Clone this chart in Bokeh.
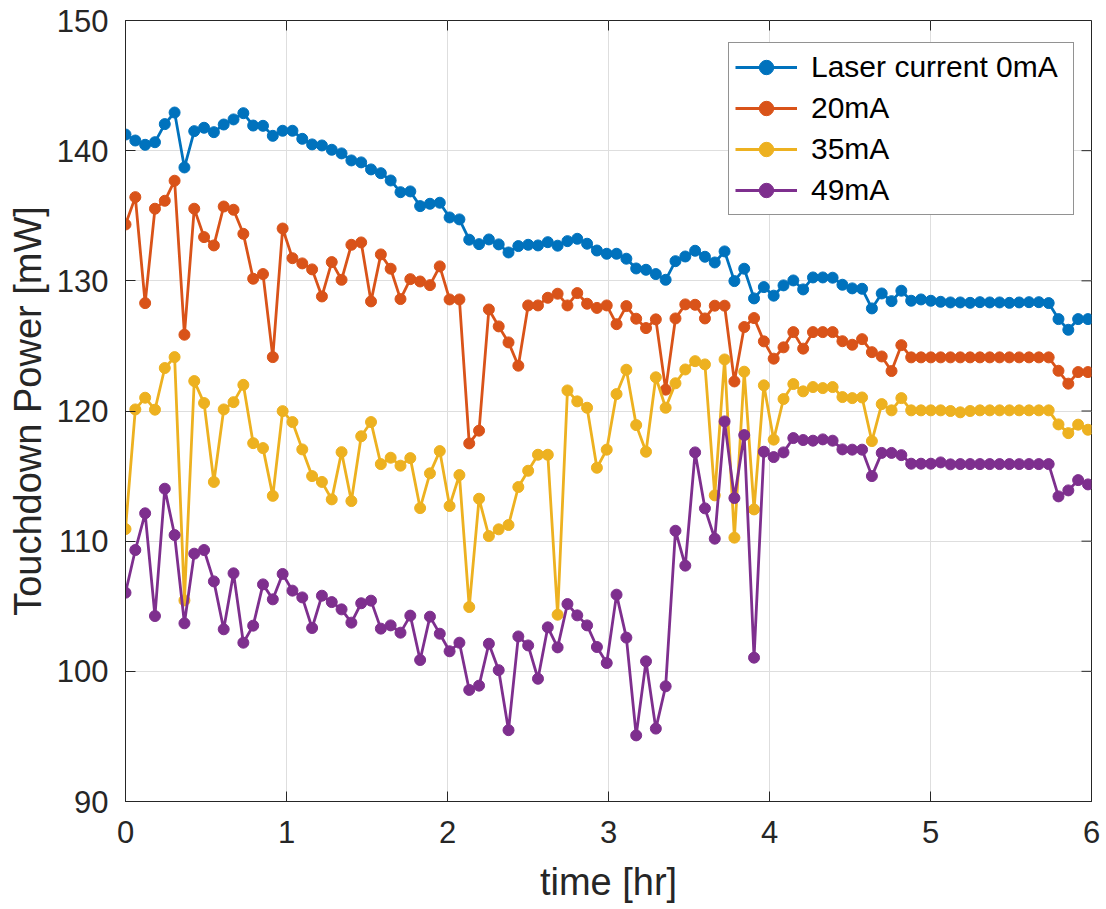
import math
from bokeh.plotting import figure
from bokeh.models import LinearAxis, FixedTicker, Range1d, Legend, LegendItem, Grid
from bokeh.embed import file_html
from bokeh.resources import INLINE

# sample times [hr]
time_hr = [round(i * 0.061, 3) for i in range(99)]

p0mA = [141.24, 140.78, 140.45, 140.65, 142.04, 142.93, 138.71, 141.5, 141.76, 141.42,
        142.01, 142.40, 142.88, 141.93, 141.91, 141.14, 141.53, 141.53, 140.91, 140.48,
        140.40, 140.07, 139.79, 139.25, 139.10, 138.56, 138.27, 137.71, 136.81, 136.87,
        135.74, 135.92, 136.0, 134.87, 134.72, 133.16, 132.82, 133.18, 132.80, 132.18,
        132.67, 132.77, 132.72, 132.97, 132.70, 133.05, 133.23, 132.85, 132.33, 132.08,
        132.08, 131.70, 130.95, 130.85, 130.52, 130.08, 131.51, 131.87, 132.31, 131.85,
        131.41, 132.26, 129.98, 130.93, 128.65, 129.52, 128.86, 129.65, 130.03, 129.34,
        130.26, 130.26, 130.24, 129.70, 129.42, 129.39, 127.88, 129.03, 128.44, 129.24,
        128.47, 128.57, 128.47, 128.39, 128.34, 128.34, 128.31, 128.36, 128.34, 128.34,
        128.31, 128.34, 128.36, 128.36, 128.29, 127.06, 126.24, 127.06, 127.06]

p20mA = [134.33, 136.43, 128.29, 135.54, 136.15, 137.69, 125.86, 135.54, 133.36, 132.72,
         135.71, 135.46, 133.61, 130.16, 130.52, 124.14, 134.02, 131.74, 131.34, 130.88,
         128.80, 131.44, 130.08, 132.77, 132.95, 128.42, 132.03, 130.93, 128.60, 130.13,
         129.95, 129.67, 131.11, 128.57, 128.57, 117.51, 118.49, 127.80, 126.50, 125.27,
         123.48, 128.11, 128.11, 128.70, 129.01, 128.11, 129.06, 128.24, 127.92, 128.11,
         126.67, 128.06, 127.09, 126.37, 127.04, 121.64, 127.11, 128.19, 128.16, 127.11,
         128.09, 128.09, 122.27, 126.45, 127.14, 125.35, 124.02, 124.89, 126.06, 124.79,
         126.06, 126.06, 126.06, 125.36, 125.09, 125.52, 124.52, 124.19, 123.07, 125.06,
         124.12, 124.12, 124.12, 124.12, 124.12, 124.12, 124.12, 124.12, 124.12, 124.12,
         124.12, 124.12, 124.12, 124.12, 124.12, 123.09, 122.10, 122.99, 122.99]

p35mA = [110.93, 120.12, 121.02, 120.10, 123.30, 124.14, 105.45, 122.30, 120.61, 114.55,
         120.12, 120.68, 122.01, 117.53, 117.15, 113.48, 119.99, 119.15, 117.05, 115.00,
         114.55, 113.21, 116.84, 113.08, 118.06, 119.15, 115.92, 116.41, 115.80, 116.38,
         112.54, 115.21, 116.92, 112.70, 115.08, 104.94, 113.26, 110.39, 110.91, 111.24,
         114.16, 115.41, 116.64, 116.64, 104.35, 121.58, 120.74, 120.25, 115.64, 117.03,
         121.30, 123.17, 118.92, 116.87, 122.59, 120.25, 122.13, 123.19, 123.83, 123.58,
         113.52, 123.96, 110.27, 123.02, 112.44, 121.97, 117.80, 120.92, 122.07, 121.51,
         121.84, 121.76, 121.84, 121.07, 120.99, 121.04, 117.69, 120.53, 120.05, 120.99,
         120.05, 120.05, 120.05, 120.05, 120.0, 119.9, 120.0, 120.05, 120.05, 120.05,
         120.05, 120.05, 120.05, 120.05, 120.05, 118.97, 118.30, 118.95, 118.56]

p49mA = [106.04, 109.32, 112.14, 104.25, 114.03, 110.47, 103.69, 109.04, 109.32, 106.91,
         103.23, 107.53, 102.20, 103.51, 106.68, 105.53, 107.48, 106.20, 105.68, 103.33,
         105.81, 105.32, 104.76, 103.74, 105.23, 105.43, 103.28, 103.53, 102.97, 104.28,
         100.87, 104.20, 102.89, 101.54, 102.20, 98.57, 98.90, 102.12, 100.09, 95.48,
         102.68, 101.99, 99.43, 103.38, 101.84, 105.17, 104.30, 103.53, 101.87, 100.64,
         105.89, 102.59, 95.08, 100.77, 95.60, 98.85, 110.80, 108.12, 116.82, 112.52,
         110.19, 119.20, 113.31, 118.15, 101.05, 116.87, 116.46, 116.82, 117.92, 117.77,
         117.72, 117.82, 117.72, 117.05, 117.03, 117.03, 115.00, 116.78, 116.78, 116.61,
         115.95, 115.95, 115.95, 116.05, 115.90, 115.92, 115.92, 115.92, 115.92, 115.92,
         115.92, 115.92, 115.92, 115.92, 115.92, 113.44, 113.90, 114.69, 114.36]

labels = ["Laser current 0mA", "20mA", "35mA", "49mA"]
colors = ["#0072BD", "#D95319", "#EDB120", "#7E2F8E"]
series = [p0mA, p20mA, p35mA, p49mA]

x_ticks = [0, 1, 2, 3, 4, 5, 6]
y_ticks = [90, 100, 110, 120, 130, 140, 150]
X_MIN, X_MAX, Y_MIN, Y_MAX = 0, 6, 90, 150

FONT = "Liberation Sans"
DARK = "#262626"

p = figure(width=1104, height=906, output_backend="svg", toolbar_location=None,
           x_range=Range1d(X_MIN, X_MAX), y_range=Range1d(Y_MIN, Y_MAX),
           min_border_left=125, min_border_right=13, min_border_top=20, min_border_bottom=105)
p.xaxis.visible = False
p.yaxis.visible = False
p.grid.visible = False

xg = Grid(dimension=0, ticker=FixedTicker(ticks=x_ticks), grid_line_color="#dedede", grid_line_width=1)
yg = Grid(dimension=1, ticker=FixedTicker(ticks=y_ticks), grid_line_color="#dedede", grid_line_width=1)
p.add_layout(xg, "center")
p.add_layout(yg, "center")


def mk_axis(ticks, label, standoff, label_standoff):
    ax = LinearAxis(ticker=FixedTicker(ticks=ticks))
    ax.major_tick_in = 10
    ax.major_tick_out = 0
    ax.minor_tick_in = 0
    ax.minor_tick_out = 0
    ax.axis_line_color = DARK
    ax.major_tick_line_color = DARK
    ax.major_label_text_color = DARK
    ax.major_label_text_font = FONT
    ax.major_label_text_font_size = "31px"
    ax.major_label_standoff = standoff
    ax.axis_label = label
    ax.axis_label_text_font = FONT
    ax.axis_label_text_font_size = "38px"
    ax.axis_label_text_font_style = "normal"
    ax.axis_label_text_color = DARK
    ax.axis_label_standoff = label_standoff
    return ax


bx = mk_axis(x_ticks, "time [hr]", 19, 15)
ly = mk_axis(y_ticks, "Touchdown Power [mW]", 17, 5)
p.add_layout(bx, "below")
p.add_layout(ly, "left")

# inner tick marks on the top and right edges of the box
p.ray(x=x_ticks, y=[Y_MAX] * len(x_ticks), length=10, length_units="screen",
      angle=-math.pi / 2, line_color=DARK, line_width=1)
p.ray(x=[X_MAX] * len(y_ticks), y=y_ticks, length=10, length_units="screen",
      angle=math.pi, line_color=DARK, line_width=1)

p.outline_line_color = DARK
p.outline_line_width = 1

items = []
for lab, col, ys in zip(labels, colors, series):
    r1 = p.line(time_hr, ys, line_color=col, line_width=2.8)
    r2 = p.scatter(time_hr, ys, marker="circle", size=11, fill_color=col, line_color=col)
    items.append(LegendItem(label=lab, renderers=[r1, r2]))

legend = Legend(items=items, location=(603, 586))
legend.label_text_font = FONT
legend.label_text_font_size = "30px"
legend.label_text_color = "#000000"
legend.glyph_width = 62
legend.glyph_height = 36
legend.label_height = 36
legend.label_width = 256
legend.label_standoff = 14
legend.spacing = 5
legend.padding = 6
legend.margin = 0
legend.border_line_color = DARK
legend.border_line_width = 1
legend.background_fill_color = "white"
legend.background_fill_alpha = 1
p.add_layout(legend, "center")

open("out.html", "w").write(file_html(p, INLINE))
